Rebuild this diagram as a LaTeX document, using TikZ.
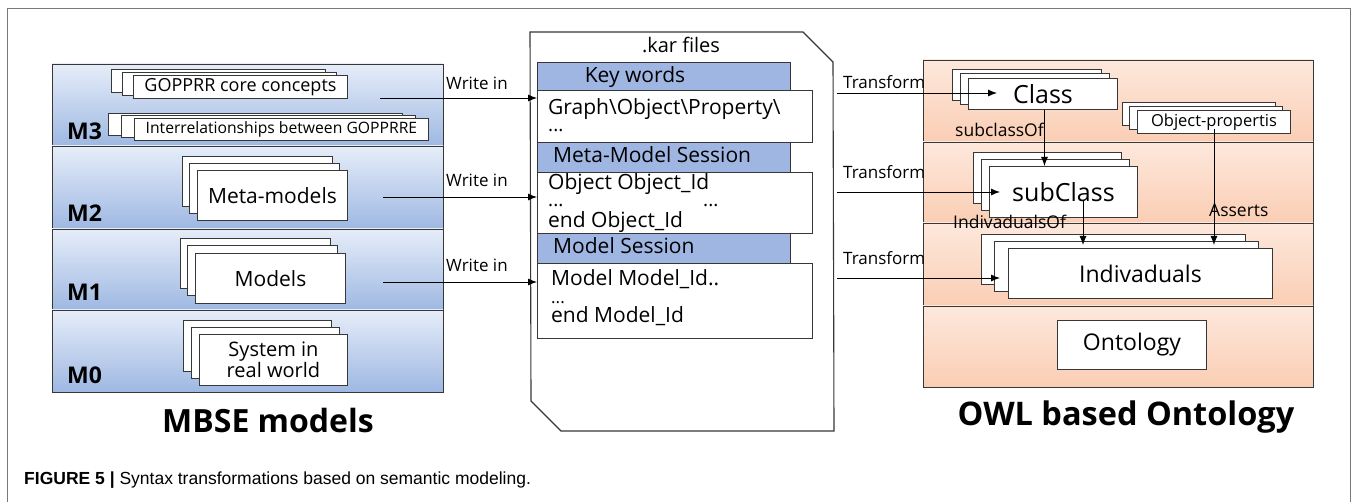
\documentclass[tikz,border=0pt]{standalone}
\usepackage{fontspec}
\setmainfont{Open Sans}
\newfontfamily\capfont{Liberation Sans}
\usetikzlibrary{arrows.meta}
\definecolor{bandblue}{RGB}{158,184,226}
\definecolor{bandbluelt}{RGB}{230,237,249}
\definecolor{bandor}{RGB}{246,166,120}
\definecolor{bandorlt}{RGB}{253,232,220}
\definecolor{barblue}{RGB}{160,182,226}
\definecolor{edge}{RGB}{55,55,55}
\definecolor{frame}{RGB}{120,120,120}
\newcommand\fsz[1]{\fontsize{#1}{#1}\selectfont}
\newcommand\stk[9]{%
  \draw[box] (#2-2*#6,#3-2*#7) rectangle (#4-2*#6,#5-2*#7);
  \draw[box] (#2-#6,#3-#7) rectangle (#4-#6,#5-#7);
  \node[box, anchor=north west, minimum width={(#4-#2)*1pt}, minimum height={(#5-#3)*1pt}, align=center, font={#8}] (#1) at (#2,#3) {#9};
}
\begin{document}
\begin{tikzpicture}[x=1pt,y=-1pt,
  box/.style={draw=edge, fill=white, line width=0.9pt, inner sep=0pt},
  bar/.style={draw=edge, fill=barblue, line width=0.9pt, inner sep=0pt},
  band/.style={draw=edge, line width=0.9pt},
  arr/.style={-{Latex[length=9pt,width=7pt]}, line width=0.9pt},
  txt/.style={inner sep=0pt, anchor=base west},
  ctxt/.style={inner sep=0pt, anchor=base},
  dots/.style={inner sep=0pt, anchor=base west, text height=3pt, text depth=0pt}]
\useasboundingbox (0,0) rectangle (1356,502);
\fill[white] (0,0) rectangle (1356,502);
% frame
\draw[frame, line width=0.9pt] (7,502) -- (7,8) -- (1350,8) -- (1350,502);

% ---------- left panel ----------
\foreach \a/\b in {64/146,146/229,229/310,310/392}{
  \shade[top color=bandbluelt, middle color=bandbluelt!55!bandblue, bottom color=bandblue] (52,\a) rectangle (443,\b);
  \draw[band] (52,\a) rectangle (443,\b);
}
\node[txt, font=\fsz{23}\bfseries] (m3) at (67,140) {M3};
\node[txt, font=\fsz{23}\bfseries] (m2) at (67,222) {M2};
\node[txt, font=\fsz{23}\bfseries] (m1) at (67,301) {M1};
\node[txt, font=\fsz{23}\bfseries] (m0) at (67,383) {M0};

\stk{gop}{133}{75}{347}{98}{11}{3}{\fsz{18}}{GOPPRR core concepts}
\stk{inter}{134}{118}{428}{140}{13}{2.5}{\fsz{15.7}}{Interrelationships between GOPPRRE}
\stk{meta}{197}{170}{347}{220}{7.5}{7}{\fsz{21}}{Meta-models}
\stk{models}{195}{253}{345}{303}{7.5}{7.5}{\fsz{21}}{Models}
\stk{sys}{199}{334}{347}{385}{8}{7}{\fsz{20}}{System in\\[1pt]real world}

\node[ctxt, font=\fsz{32}\bfseries] (mbse) at (268,432) {MBSE models};

% ---------- kar file ----------
\draw[draw=edge, fill=white, line width=1.1pt] (530,32) -- (803,32) -- (833,62) -- (834,431) -- (561,431) -- (531,401) -- cycle;
\node[ctxt, font=\fsz{20}] (karT) at (681,53) {.kar files};
\node[bar, anchor=north west, minimum width=253pt, minimum height=28pt] (kw) at (537,62) {};
\node[box, anchor=north west, minimum width=275pt, minimum height=52pt] (graph) at (537,90) {};
\node[bar, anchor=north west, minimum width=253pt, minimum height=30pt] (mms) at (537,142) {};
\node[box, anchor=north west, minimum width=275pt, minimum height=61pt] (obj) at (537,172) {};
\node[bar, anchor=north west, minimum width=253pt, minimum height=30pt] (ms) at (537,233) {};
\node[box, anchor=north west, minimum width=275pt, minimum height=75pt] (mod) at (537,263) {};

\node[ctxt, font=\fsz{21}] (kwT) at (635,83) {Key words};
\node[txt, font=\fsz{21}] (gT) at (548,115) {Graph\textbackslash Object\textbackslash Property\textbackslash};
\node[dots, font=\fsz{19}] (gD) at (548,132) {...};
\node[txt, font=\fsz{21}] (mmsT) at (553,163) {Meta-Model Session};
\node[txt, font=\fsz{21}] (oT) at (548,190) {Object Object\_Id};
\node[dots, font=\fsz{19}] (oD) at (548,207) {...};
\node[dots, font=\fsz{19}] (oD2) at (703,207) {...};
\node[txt, font=\fsz{21}] (oE) at (548,228) {end Object\_Id};
\node[txt, font=\fsz{21}] (msT) at (553,254) {Model Session};
\node[txt, font=\fsz{21}] (mT) at (551,286) {Model Model\_Id..};
\node[dots, font=\fsz{17}] (mD) at (551,304) {...};
\node[txt, font=\fsz{21}] (mE) at (551,323) {end Model\_Id};

% write in arrows
\coordinate (w1) at (380,98);
\coordinate (w2) at (383,197);
\coordinate (w3) at (383,282);
\draw[arr] (w1) -- (w1 -| graph.west);
\draw[arr] (w2) -- (w2 -| obj.west);
\draw[arr] (w3) -- (w3 -| mod.west);
\node[txt, font=\fsz{17}] (wl1) at (446,90) {Write in};
\node[txt, font=\fsz{17}] (wl2) at (446,187) {Write in};
\node[txt, font=\fsz{17}] (wl3) at (446,272) {Write in};

% ---------- right panel ----------
\foreach \a/\b in {60/142,142/223,223/306,306/387}{
  \shade[top color=bandorlt, middle color=bandor, bottom color=bandorlt!60!bandor] (923,\a) rectangle (1313,\b);
  \draw[band] (923,\a) rectangle (1313,\b);
}
\stk{class}{968}{78}{1117}{109}{8}{4.5}{\fsz{25}}{Class}
\stk{objp}{1137}{110}{1290}{133}{7.5}{4}{\fsz{16.5}}{Object-propertis}
\stk{subc}{989}{166}{1137}{217}{8}{7}{\fsz{25}}{subClass}
\stk{indiv}{1008}{248}{1272}{298}{13.5}{7}{\fsz{23}}{Indivaduals}
\node[box, anchor=north west, minimum width=149pt, minimum height=49pt, font=\fsz{23}] (onto) at (1057,320) {Ontology};

\node[ctxt, font=\fsz{32.5}\bfseries] (owl) at (1126,425) {OWL based Ontology};

% transform arrows
\coordinate (t1) at (837,93);
\coordinate (t2) at (837,192);
\coordinate (t3) at (837,278);
\draw[arr] (t1) -- ([xshift=29pt]t1 -| class.west);
\draw[arr] (t2) -- ([xshift=11pt]t2 -| subc.west);
\draw[arr] (t3) -- ([xshift=-8pt]t3 -| indiv.west);
\node[txt, font=\fsz{17}] (tl1) at (843,89) {Transform};
\node[txt, font=\fsz{17}] (tl2) at (843,179) {Transform};
\node[txt, font=\fsz{17}] (tl3) at (843,265) {Transform};

% internal arrows
\draw[arr] ([xshift=1.5pt]class.south) -- ([xshift=1.5pt]class.south |- subc.north);
\coordinate (io) at (1083,200);
\draw[arr] (io) -- ([yshift=3pt]io |- indiv.north);
\draw[arr] ([yshift=5pt]objp.south) -- ([yshift=3pt]objp.south |- indiv.north);
\node[txt, font=\fsz{17.5}] (scl) at (955,137) {subclassOf};
\node[txt, font=\fsz{17.5}] (iol) at (953,229) {IndivadualsOf};
\node[txt, font=\fsz{17.5}] (asl) at (1209,217) {Asserts};

% caption
\node[txt, font=\capfont\fsz{17.5}] (cap) at (24,484) {\textbf{FIGURE 5 |} Syntax transformations based on semantic modeling.};
\end{tikzpicture}
\end{document}
